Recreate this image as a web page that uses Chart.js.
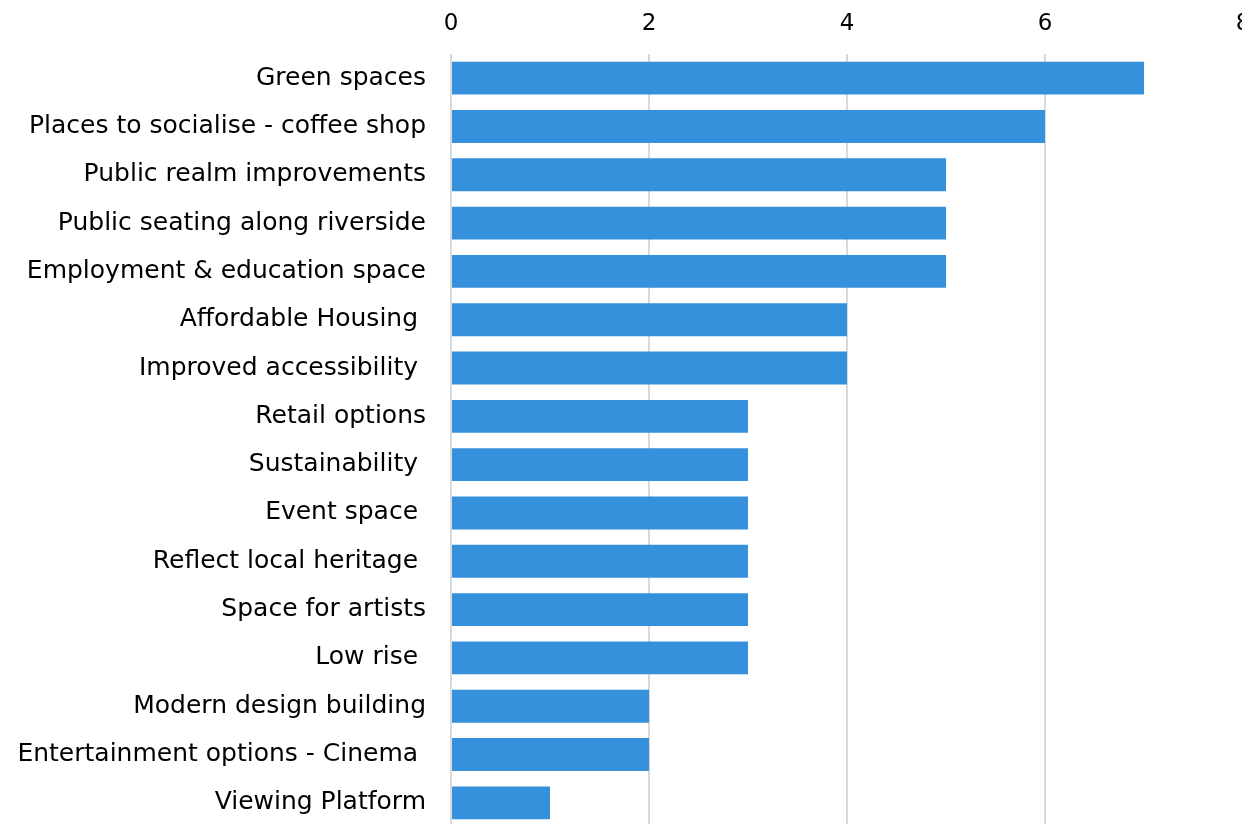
<!DOCTYPE html>
<html>
<head>
<meta charset="utf-8">
<script src="https://cdn.jsdelivr.net/npm/chart.js@4.4.1/dist/chart.umd.min.js"></script>
<style>
  html, body { margin: 0; padding: 0; background: #fff; overflow: hidden; }
  canvas { display: block; }
</style>
</head>
<body>
<canvas id="chart" width="1251" height="827"></canvas>
<script>
// categorias y valores (de arriba hacia abajo)
const categories = [
  'Green spaces',
  'Places to socialise - coffee shop',
  'Public realm improvements',
  'Public seating along riverside',
  'Employment & education space',
  'Affordable Housing ',
  'Improved accessibility ',
  'Retail options',
  'Sustainability ',
  'Event space ',
  'Reflect local heritage ',
  'Space for artists',
  'Low rise ',
  'Modern design building',
  'Entertainment options - Cinema ',
  'Viewing Platform'
];
const counts = [7, 6, 5, 5, 5, 4, 4, 3, 3, 3, 3, 3, 3, 2, 2, 1];
const xTicks = [0, 2, 4, 6, 8];

const fontFamily = '"DejaVu Sans", sans-serif';

const ctx = document.getElementById('chart').getContext('2d');
const chart = new Chart(ctx, {
  type: 'bar',
  data: {
    labels: categories,
    datasets: [{
      data: counts,
      backgroundColor: '#3591db',
      borderWidth: 0,
      categoryPercentage: 0.85,
      barPercentage: 0.8
    }]
  },
  options: {
    indexAxis: 'y',
    responsive: false,
    animation: false,
    layout: { padding: 0 },
    plugins: { legend: { display: false }, tooltip: { enabled: false } },
    scales: {
      x: {
        position: 'top',
        min: 0,
        max: 8,
        afterBuildTicks: (s) => { s.ticks = xTicks.map(v => ({ value: v })); },
        // eje arriba: alto fijo y sin relleno extra a la derecha
        afterFit: (s) => { s.height = 54; s.paddingRight = 8; s.paddingLeft = 0; },
        grid: { color: '#d9d9d9', lineWidth: 2, drawTicks: false },
        border: { display: false },
        ticks: { color: '#000', padding: 16, font: { family: fontFamily, size: 23 } }
      },
      y: {
        afterFit: (s) => { s.width = 451; s.paddingTop = 0; s.paddingBottom = 0; },
        grid: { display: false, drawTicks: false },
        border: { display: false },
        ticks: { color: '#000', padding: 25, autoSkip: false, font: { family: fontFamily, size: 25 } }
      }
    }
  }
});
</script>
</body>
</html>
